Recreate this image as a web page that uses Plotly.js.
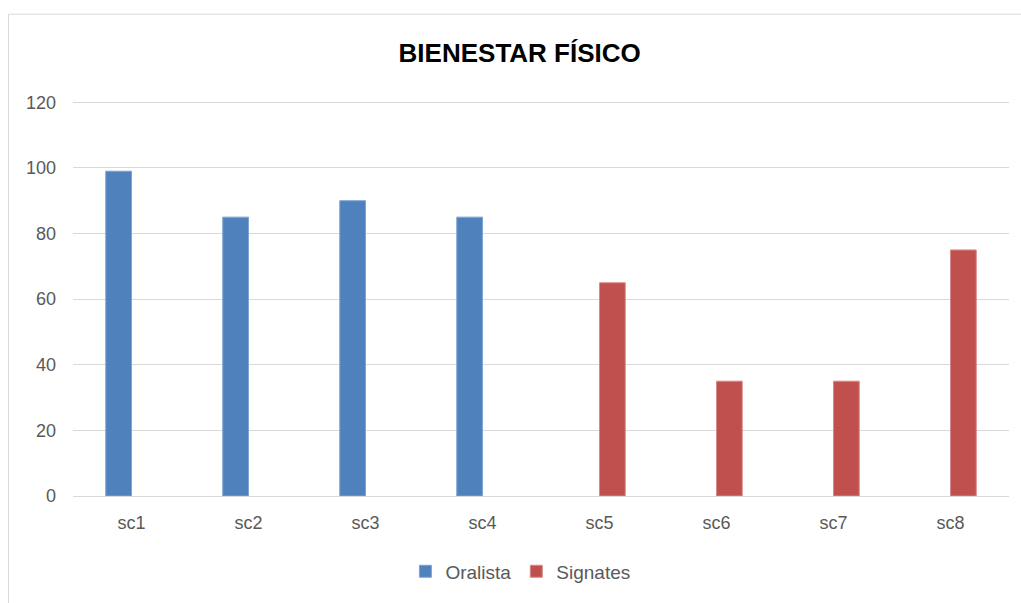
<!DOCTYPE html>
<html>
<head>
<meta charset="utf-8">
<script src="https://cdn.plot.ly/plotly-3.0.1.min.js"></script>
<style>html,body{margin:0;padding:0;background:#fff;}</style>
</head>
<body>
<div id="chart" style="width:1021px;height:603px;"></div>
<script>
const categories = ["sc1", "sc2", "sc3", "sc4", "sc5", "sc6", "sc7", "sc8"];
const oralista = [99, 85, 90, 85, null, null, null, null];
const signates = [null, null, null, null, 65, 35, 35, 75];
const yTicks = [0, 20, 40, 60, 80, 100, 120];

const W = 1021, H = 603;
const M = {l: 73, r: 12, t: 101, b: 104};
const PW = W - M.l - M.r, PH = H - M.t - M.b;
const px2x = p => (p - M.l) / PW;
const py2y = p => (H - M.b - p) / PH;

const font = "'Liberation Sans', Arial, sans-serif";

const traces = [
  {type: 'bar', name: 'Oralista', x: categories, y: oralista,
   marker: {color: '#4F81BD', line: {color: '#7FA3D3', width: 1}}},
  {type: 'bar', name: 'Signates', x: categories, y: signates,
   marker: {color: '#C0504D', line: {color: '#D88A88', width: 1}}}
];

const layout = {
  width: W, height: H,
  margin: M,
  paper_bgcolor: '#fff', plot_bgcolor: '#fff',
  font: {family: font, color: '#595959', size: 18},
  title: {text: '<b>BIENESTAR FÍSICO</b>', font: {family: font, size: 26, color: '#000'},
          x: 0.509, xanchor: 'center', y: 1 - 53 / H, yanchor: 'middle'},
  barmode: 'group', bargap: 0.56, bargroupgap: 0,
  xaxis: {type: 'category', showgrid: false, showline: false, zeroline: false,
          ticks: '', ticklabelstandoff: 14, tickfont: {size: 18, color: '#595959'}},
  yaxis: {range: [0, 120.4], tickvals: yTicks, showgrid: true, gridcolor: '#D9D9D9', gridwidth: 1,
          zeroline: true, zerolinecolor: '#D9D9D9', zerolinewidth: 1, showline: false,
          ticks: '', ticklabelstandoff: 16, tickfont: {size: 18, color: '#595959'}},
  legend: {orientation: 'h', x: 0.478, xanchor: 'center', y: py2y(575), yanchor: 'middle',
           font: {size: 19, color: '#595959'}, itemwidth: 30, traceorder: 'normal'},
  showlegend: true,
  shapes: [
    {type: 'rect', xref: 'paper', yref: 'paper', x0: px2x(8.5), x1: px2x(1030), y0: py2y(620), y1: py2y(13.5),
     line: {color: '#D9D9D9', width: 1}, fillcolor: 'rgba(0,0,0,0)', layer: 'below'}
  ]
};

Plotly.newPlot('chart', traces, layout, {displayModeBar: false, staticPlot: true});
</script>
</body>
</html>
